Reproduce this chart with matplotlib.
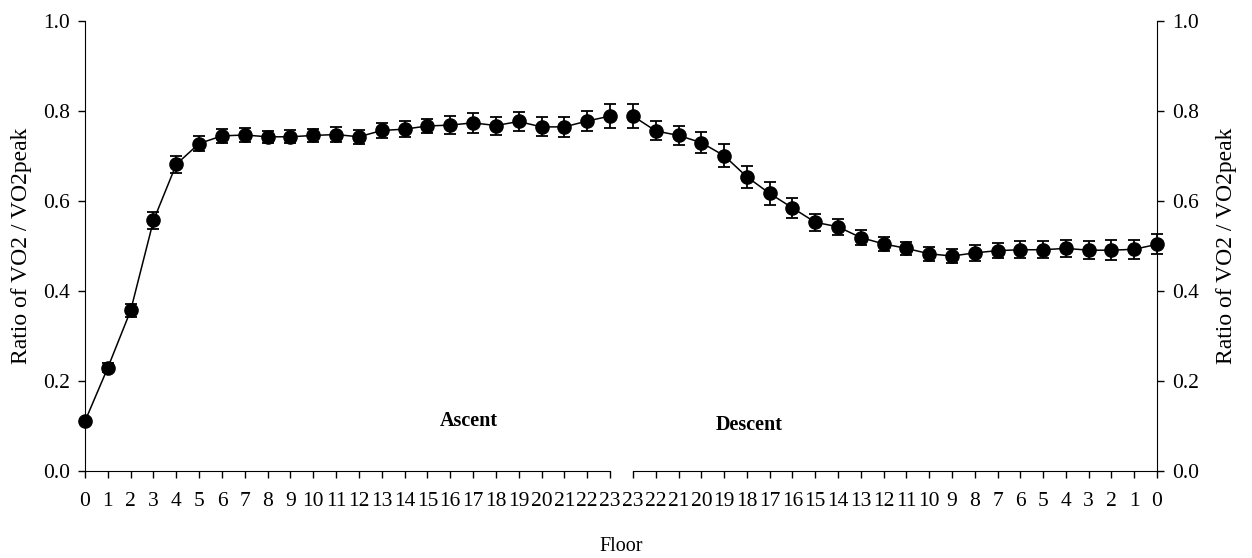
import matplotlib
matplotlib.use("Agg")
import matplotlib.pyplot as plt
import numpy as np

plt.rcParams['font.family'] = ['Liberation Serif', 'DejaVu Serif']

# floors climbed / descended
ascent_floors = np.arange(0, 24)
descent_floors = np.arange(23, -1, -1)

# VO2 / VO2peak ratio, mean and error
ascent_mean = [0.110, 0.229, 0.356, 0.556, 0.681, 0.727, 0.744, 0.746, 0.742, 0.742,
               0.745, 0.747, 0.742, 0.756, 0.759, 0.766, 0.768, 0.773, 0.767, 0.776,
               0.764, 0.764, 0.777, 0.788]
ascent_err = [0.005, 0.010, 0.015, 0.019, 0.019, 0.017, 0.016, 0.016, 0.013, 0.014,
              0.015, 0.016, 0.016, 0.017, 0.018, 0.016, 0.020, 0.022, 0.020, 0.021,
              0.021, 0.023, 0.023, 0.026]
descent_mean = [0.788, 0.755, 0.745, 0.729, 0.700, 0.653, 0.616, 0.584, 0.552, 0.542,
                0.518, 0.504, 0.494, 0.482, 0.477, 0.484, 0.489, 0.491, 0.491, 0.494,
                0.490, 0.490, 0.492, 0.503]
descent_err = [0.026, 0.021, 0.022, 0.023, 0.026, 0.024, 0.026, 0.022, 0.019, 0.018,
               0.017, 0.015, 0.015, 0.016, 0.016, 0.017, 0.017, 0.019, 0.019, 0.019,
               0.020, 0.022, 0.021, 0.022]

yticks = np.arange(0, 1.01, 0.2)
ylabel = 'Ratio of VO2 / VO2peak'

fig = plt.figure(figsize=(12.52, 5.58), dpi=100)
bottom, top = 0.1565, 0.9629
# two axes side by side so the floor axis is broken between ascent and descent
ax1 = fig.add_axes([0.0679, bottom, 0.4872 - 0.0679, top - bottom])
ax2 = fig.add_axes([0.5056, bottom, 0.9241 - 0.5056, top - bottom])

style = dict(fmt='-o', color='black', markersize=9.5, linewidth=1.1,
             elinewidth=1.3, capsize=4.3, capthick=1.3, clip_on=False, zorder=3)

ax1.errorbar(ascent_floors, ascent_mean, yerr=ascent_err, **style)
ax2.errorbar(descent_floors, descent_mean, yerr=descent_err, **style)

for ax in (ax1, ax2):
    ax.set_ylim(0, 1.0)
    ax.set_yticks(yticks)
    ax.set_yticklabels(['%.1f' % v for v in yticks])
    ax.spines['top'].set_visible(False)
    ax.tick_params(axis='both', labelsize=15.5, length=5, width=1, direction='out')
    ax.tick_params(axis='x', pad=10, length=5)
    ax.tick_params(axis='y', pad=6)

ax1.set_xlim(0, 23)
ax1.set_xticks(ascent_floors)
ax1.spines['right'].set_visible(False)
ax1.set_ylabel(ylabel, fontsize=17, labelpad=8)

ax2.set_xlim(23, 0)
ax2.set_xticks(descent_floors)
ax2.spines['left'].set_visible(False)
ax2.yaxis.tick_right()
ax2.yaxis.set_label_position('right')
ax2.set_ylabel(ylabel, fontsize=17, labelpad=12)

ax1.text(16.8, 0.111, 'Ascent', ha='center', va='center', fontsize=14.5, fontweight='bold')
ax2.text(17.9, 0.101, 'Descent', ha='center', va='center', fontsize=14.5, fontweight='bold')

fig.text(0.4958, 0.0203, 'Floor', ha='center', va='center', fontsize=14.5)

fig.savefig('out.png', dpi=100)
